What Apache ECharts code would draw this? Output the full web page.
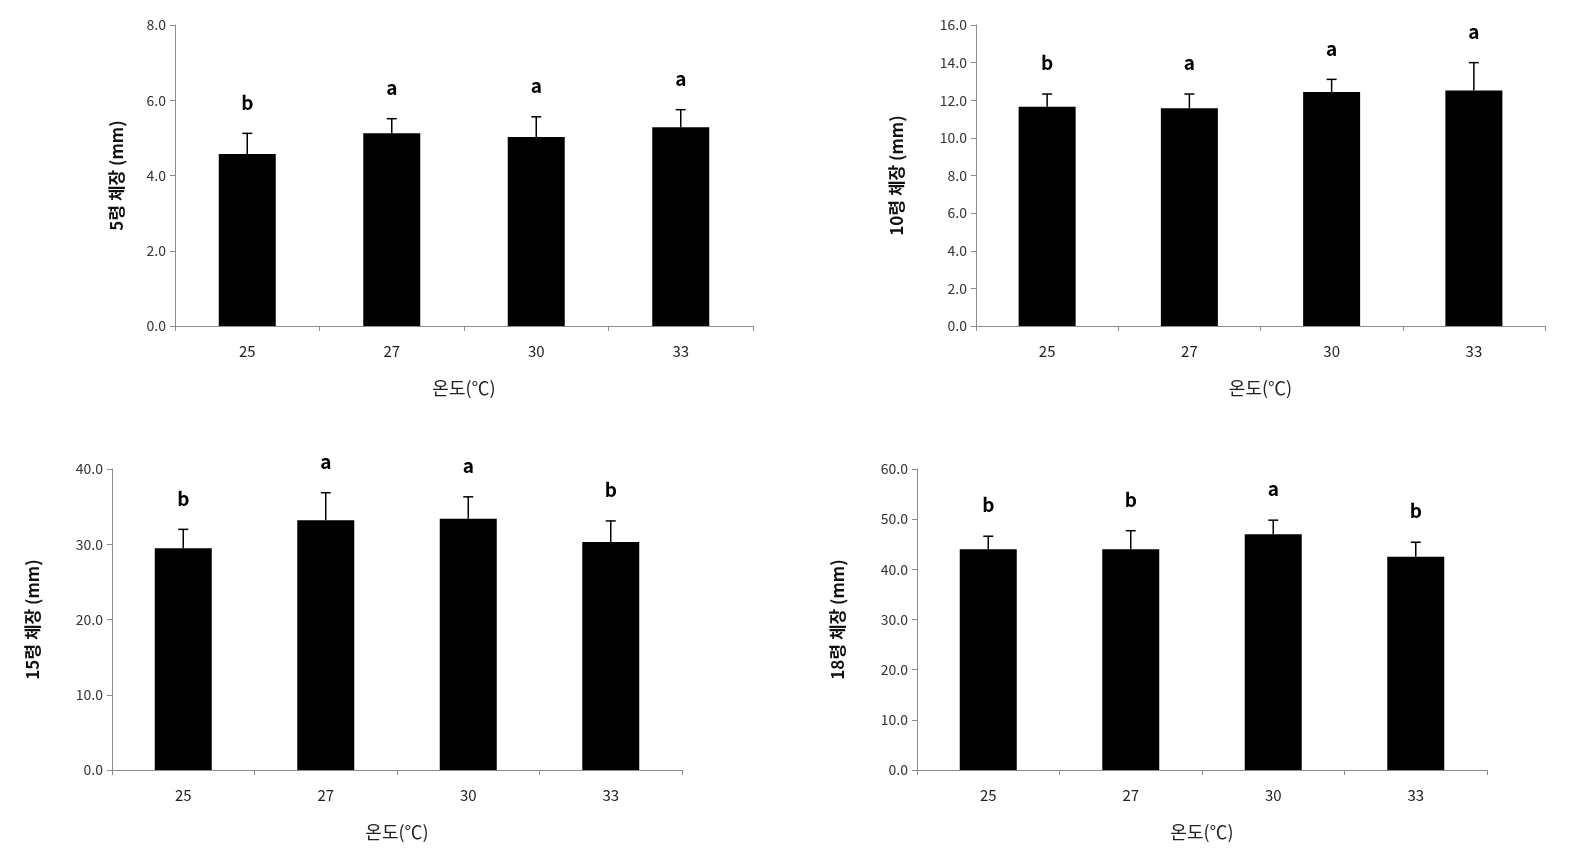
<!DOCTYPE html>
<html>
<head>
<meta charset="utf-8">
<script src="https://cdn.jsdelivr.net/npm/echarts@6/dist/echarts.min.js"></script>
<style>
  html, body { margin: 0; padding: 0; background: #fff; }
  #root { width: 1592px; height: 857px; }
</style>
</head>
<body>
<div id="root"></div>
<script>
var temps = ['25', '27', '30', '33'];

// 5령
var mean5 = [4.57, 5.12, 5.02, 5.28];
var sd5 = [0.55, 0.39, 0.54, 0.47];
var sig5 = ['b', 'a', 'a', 'a'];
// 10령
var mean10 = [11.66, 11.57, 12.44, 12.52];
var sd10 = [0.67, 0.76, 0.67, 1.48];
var sig10 = ['b', 'a', 'a', 'a'];
// 15령
var mean15 = [29.46, 33.18, 33.4, 30.3];
var sd15 = [2.52, 3.67, 2.9, 2.8];
var sig15 = ['b', 'a', 'a', 'b'];
// 18령
var mean18 = [44.0, 44.0, 47.0, 42.5];
var sd18 = [2.6, 3.7, 2.8, 2.9];
var sig18 = ['b', 'b', 'a', 'b'];

var yMax = [8, 16, 40, 60];
var yStep = [2, 2, 10, 10];
var yNames = ['5령 체장 (mm)', '10령 체장 (mm)', '15령 체장 (mm)', '18령 체장 (mm)'];
var xName = '온도(℃)';

var FONT = '"Noto Sans CJK KR", "Noto Sans", sans-serif';

var grids = [
    { left: 175, top: 25, width: 578, height: 301 },
    { left: 976, top: 25, width: 569, height: 301 },
    { left: 112, top: 469, width: 570, height: 301 },
    { left: 917, top: 469, width: 570, height: 301 }
];
var nameGaps = [50, 71, 71, 71];

var panels = [
    { mean: mean5, sd: sd5, sig: sig5 },
    { mean: mean10, sd: sd10, sig: sig10 },
    { mean: mean15, sd: sd15, sig: sig15 },
    { mean: mean18, sd: sd18, sig: sig18 }
];

var xAxes = [], yAxes = [], series = [];
panels.forEach(function (p, k) {
    xAxes.push({
        type: 'category',
        gridIndex: k,
        data: temps,
        boundaryGap: true,
        name: xName,
        nameLocation: 'middle',
        nameGap: 53,
        nameTextStyle: { fontFamily: FONT, fontSize: 18, color: '#222' },
        axisLine: { lineStyle: { color: '#8c8c8c', width: 1 } },
        axisTick: { show: true, length: 5, lineStyle: { color: '#8c8c8c' } },
        axisLabel: { fontFamily: FONT, fontSize: 15, color: '#222', margin: 18 }
    });
    yAxes.push({
        type: 'value',
        gridIndex: k,
        min: 0,
        max: yMax[k],
        interval: yStep[k],
        name: yNames[k],
        nameLocation: 'middle',
        nameRotate: 90,
        nameGap: nameGaps[k],
        nameTextStyle: { fontFamily: FONT, fontSize: 17, fontWeight: 'bold', color: '#111' },
        splitLine: { show: false },
        axisLine: { show: true, lineStyle: { color: '#8c8c8c', width: 1 } },
        axisTick: { show: true, length: 5, lineStyle: { color: '#8c8c8c' } },
        axisLabel: {
            fontFamily: FONT, fontSize: 14, color: '#333', margin: 9,
            formatter: function (v) { return v.toFixed(1); }
        }
    });
    series.push({
        type: 'bar',
        xAxisIndex: k,
        yAxisIndex: k,
        data: p.mean,
        barWidth: 57,
        itemStyle: { color: '#000' },
        silent: true
    });
    series.push({
        type: 'custom',
        xAxisIndex: k,
        yAxisIndex: k,
        silent: true,
        z: 5,
        data: p.mean.map(function (m, i) { return [i, m, p.sd[i]]; }),
        encode: { x: 0, y: 1 },
        renderItem: function (params, api) {
            var i = api.value(0);
            var m = api.value(1);
            var s = api.value(2);
            var p0 = api.coord([i, m]);
            var p1 = api.coord([i, m + s]);
            var hw = 5;
            return {
                type: 'group',
                children: [
                    { type: 'line', shape: { x1: p0[0], y1: p0[1], x2: p1[0], y2: p1[1] },
                      style: { stroke: '#000', lineWidth: 1.5 } },
                    { type: 'line', shape: { x1: p1[0] - hw, y1: p1[1], x2: p1[0] + hw, y2: p1[1] },
                      style: { stroke: '#000', lineWidth: 1.5 } },
                    { type: 'text',
                      style: { text: p.sig[params.dataIndex], x: p1[0], y: p1[1] - 31,
                               align: 'center', verticalAlign: 'middle',
                               fontFamily: FONT, fontSize: 19, fontWeight: 'bold', fill: '#000' } }
                ]
            };
        }
    });
});

var chart = echarts.init(document.getElementById('root'));
chart.setOption({
    animation: false,
    backgroundColor: '#fff',
    grid: grids,
    xAxis: xAxes,
    yAxis: yAxes,
    series: series
});
</script>
</body>
</html>
